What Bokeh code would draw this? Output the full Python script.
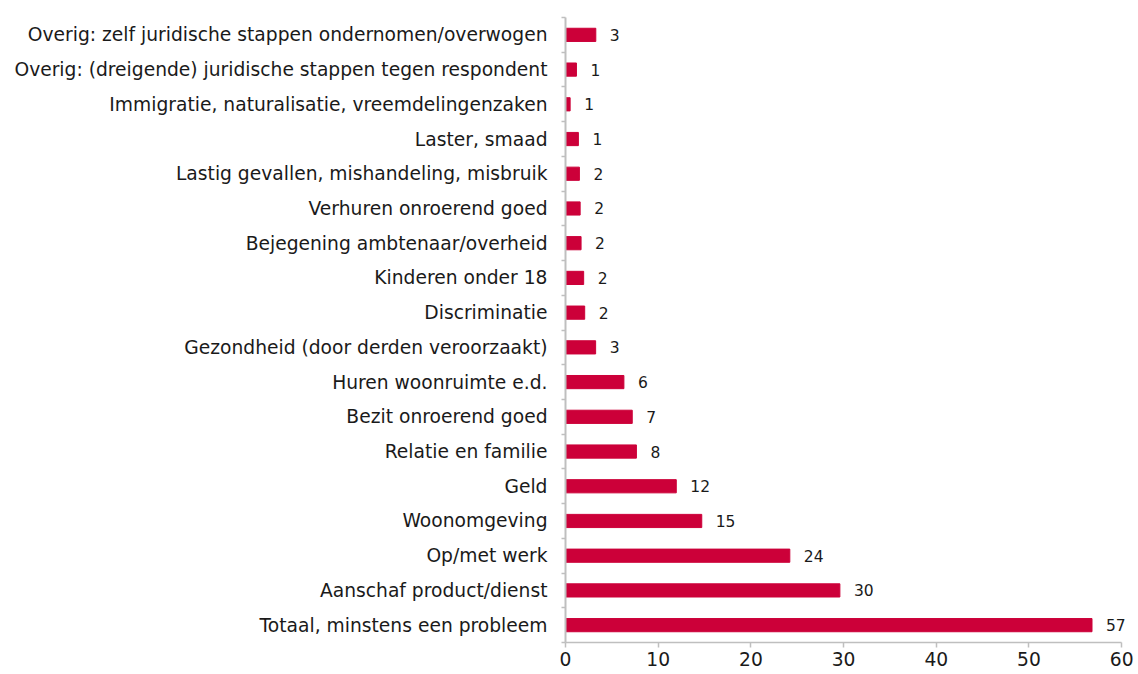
from bokeh.plotting import figure
from bokeh.models import ColumnDataSource, FixedTicker, Range1d, LabelSet
from bokeh.core.properties import value
from bokeh.embed import file_html
from bokeh.resources import INLINE

# Categories listed top to bottom
categories = [
    "Overig: zelf juridische stappen ondernomen/overwogen",
    "Overig: (dreigende) juridische stappen tegen respondent",
    "Immigratie, naturalisatie, vreemdelingenzaken",
    "Laster, smaad",
    "Lastig gevallen, mishandeling, misbruik",
    "Verhuren onroerend goed",
    "Bejegening ambtenaar/overheid",
    "Kinderen onder 18",
    "Discriminatie",
    "Gezondheid (door derden veroorzaakt)",
    "Huren woonruimte e.d.",
    "Bezit onroerend goed",
    "Relatie en familie",
    "Geld",
    "Woonomgeving",
    "Op/met werk",
    "Aanschaf product/dienst",
    "Totaal, minstens een probleem",
]
values = [3.27, 1.18, 0.5, 1.39, 1.5, 1.58, 1.68, 1.96, 2.07, 3.25,
          6.3, 7.2, 7.65, 11.95, 14.7, 24.2, 29.6, 56.8]
value_labels = ["3", "1", "1", "1", "2", "2", "2", "2", "2", "3",
                "6", "7", "8", "12", "15", "24", "30", "57"]
x_ticks = [0, 10, 20, 30, 40, 50, 60]

n = len(categories)
ypos = [n - 1 - i for i in range(n)]  # top item has highest y

src = ColumnDataSource(dict(y=ypos, v=values, lab=value_labels, cat=categories))

FONT = "DejaVu Sans"
GRAY = "#bfbfbf"
TXT = "#1a1a1a"

p = figure(width=1136, height=668, output_backend="svg", toolbar_location=None,
           x_range=Range1d(0, 61.6), y_range=Range1d(-0.5, n - 0.5),
           min_border_left=565, min_border_right=0, min_border_top=17,
           min_border_bottom=0)
p.outline_line_color = None
p.xgrid.grid_line_color = None
p.ygrid.grid_line_color = None

p.hbar(y="y", right="v", left=0, height=0.38, source=src,
       fill_color="#cc0039", line_color="#cc0039")

labels = LabelSet(x="v", y="y", text="lab", source=src, x_offset=14,
                  text_baseline="middle", text_align="left",
                  text_font=value(FONT), text_font_size=value("15.5px"),
                  text_color=value(TXT))
p.add_layout(labels)

# y axis: labels at centers, ticks at boundaries
yax = p.yaxis[0]
yax.ticker = FixedTicker(ticks=ypos, minor_ticks=[i - 0.5 for i in range(n + 1)])
yax.major_label_overrides = {y: c for y, c in zip(ypos, categories)}
yax.major_tick_line_color = None
yax.major_tick_out = 0
yax.major_tick_in = 0
yax.minor_tick_line_color = GRAY
yax.minor_tick_line_width = 1.5
yax.minor_tick_out = 4
yax.minor_tick_in = 0
yax.axis_line_color = GRAY
yax.axis_line_width = 2
yax.major_label_standoff = 14
yax.major_label_text_font = FONT
yax.major_label_text_font_size = "18.7px"
yax.major_label_text_color = TXT

xax = p.xaxis[0]
xax.ticker = FixedTicker(ticks=x_ticks, minor_ticks=[])
xax.bounds = (x_ticks[0], x_ticks[-1])
xax.axis_line_color = GRAY
xax.axis_line_width = 1.5
xax.major_tick_line_color = GRAY
xax.major_tick_line_width = 1.5
xax.major_tick_out = 5
xax.major_tick_in = 0
xax.minor_tick_line_color = None
xax.major_label_standoff = 4
xax.major_label_text_font = FONT
xax.major_label_text_font_size = "18.7px"
xax.major_label_text_color = TXT

open("out.html", "w").write(file_html(p, INLINE))
